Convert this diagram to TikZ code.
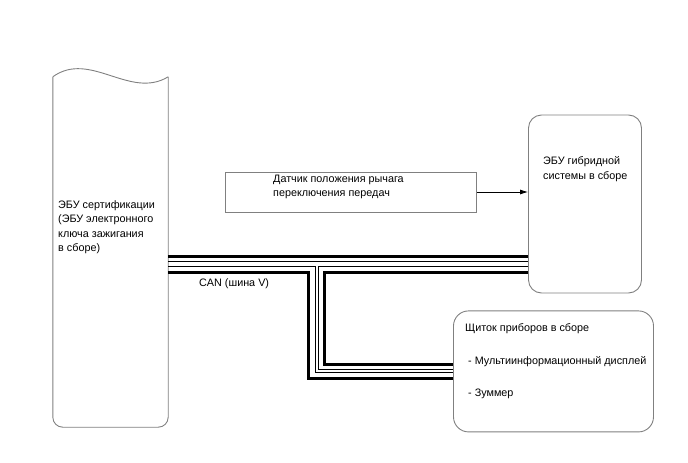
\documentclass[tikz,border=0pt]{standalone}
\usepackage{fontspec}
\setmainfont{Liberation Sans}
\usepackage{tikz}
\usetikzlibrary{arrows, arrows.meta, positioning, calc}
\tikzstyle{ecu} = [rectangle, draw=gray, line width=0.9pt, rounded corners=13pt, inner sep=0pt]
\tikzstyle{sensorbox} = [rectangle, draw=gray, line width=0.8pt, inner sep=0pt]
\tikzstyle{txt} = [align=left, inner sep=0pt, font=\fontsize{10.8}{14.5}\selectfont]
\tikzstyle{canthick} = [line width=3pt]
\tikzstyle{canthin} = [line width=1pt]
\tikzstyle{arrow} = [-{Latex[length=8pt, width=5pt]}, line width=0.8pt]

\begin{document}
\begin{tikzpicture}[x=1pt, y=-1pt]
        \useasboundingbox (0,0) rectangle (688,463);

        \node (cert) [minimum width=115pt, minimum height=350pt, inner sep=0pt] at (110.5,252) {};
        \draw [gray, line width=0.9pt, rounded corners=10pt] (cert.north west) -- (cert.south west) -- (cert.south east) -- (cert.north east);
        \draw [gray, line width=0.9pt] (cert.north west) .. controls (90,50) and (130,100) .. (cert.north east);
        \node (certtxt) [txt, anchor=west] at (58,227) {ЭБУ сертификации\\(ЭБУ электронного\\ключа зажигания\\в сборе)};

        \node (hybrid) [ecu, minimum width=113pt, minimum height=178pt] at (585,204) {};
        \node (hybtxt) [txt, anchor=west] at (543,169) {ЭБУ гибридной\\системы в сборе};

        \node (sensor) [sensorbox, minimum width=251pt, minimum height=40pt, left=51pt of hybrid, yshift=12pt] {};
        \node (sensortxt) [txt, anchor=west] at (273,187) {Датчик положения рычага\\переключения передач};

        \node (cluster) [ecu, rounded corners=15pt, minimum width=200pt, minimum height=121pt, below=17pt of hybrid, xshift=-31.5pt] {};
        \node (clustertxt) [txt, anchor=west, font=\fontsize{10.8}{32.5}\selectfont] at (465,361.5) {Щиток приборов в сборе\\\ - Мультиинформационный дисплей\\\ - Зуммер};

        \node (canlbl) [txt, anchor=west] at (199,284) {CAN (шина V)};

        \draw [arrow] (sensor.east) -- (sensor.east -| hybrid.west);

        \coordinate (busTop) at (0,256.8);
        \coordinate (busMid) at (0,261.3);
        \coordinate (canThin) at (0,266.3);
        \coordinate (canThick) at (0,272.2);
        \coordinate (outThick) at (308,378.8);
        \coordinate (outThin) at (315.2,372.5);
        \coordinate (inThin) at (318.5,369.2);
        \coordinate (inThick) at (324,364.5);

        \draw [canthick] (cert.east |- busTop) -- (hybrid.west |- busTop);
        \draw [canthin] (cert.east |- busMid) -- (hybrid.west |- busMid);
        \draw [canthin] (cert.east |- canThin) -| (outThin) -- (cluster.west |- outThin);
        \draw [canthick] (cert.east |- canThick) -| (outThick) -- (cluster.west |- outThick);
        \draw [canthin] (hybrid.west |- canThin) -| (inThin) -- (cluster.west |- inThin);
        \draw [canthick] (hybrid.west |- canThick) -| (inThick) -- (cluster.west |- inThick);
    \end{tikzpicture}
\end{document}
